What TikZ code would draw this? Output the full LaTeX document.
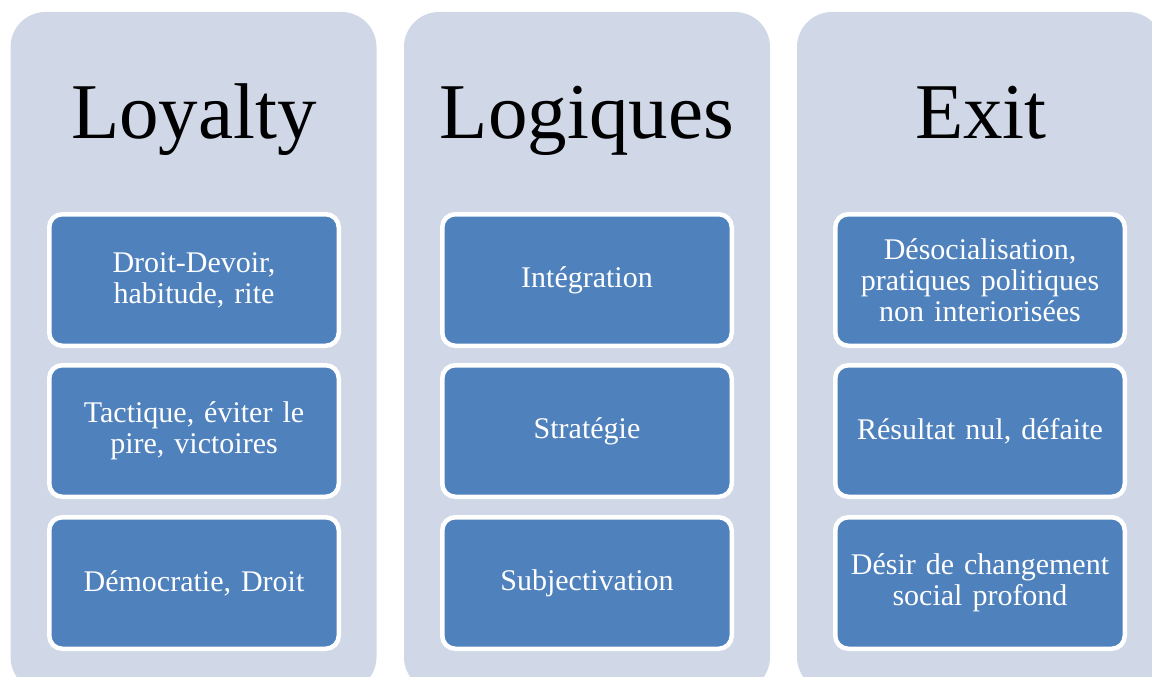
\documentclass[tikz,border=0pt]{standalone}
\usepackage{fontspec}
\setmainfont{Liberation Serif}
\usepackage{tikz}
\usetikzlibrary{positioning}
\definecolor{panelbg}{HTML}{D0D8E8}
\definecolor{itemblue}{HTML}{4F81BD}

\begin{document}
\begin{tikzpicture}[x=1pt,y=-1pt,
	panel/.style={rectangle,rounded corners=35pt,fill=panelbg,minimum width=366pt,minimum height=680pt,inner sep=0pt},
	heading/.style={anchor=base,font=\fontsize{79}{80}\selectfont,text=black},
	item/.style={rectangle,rounded corners=13pt,draw=white,line width=4.5pt,fill=itemblue,minimum width=289.5pt,minimum height=131.5pt,text width=280pt,align=center,text=white,font=\fontsize{30}{31}\selectfont}]
	 \useasboundingbox (0,0) rectangle (1152,677);

	 % columns
	 \node at (193.5,352) [panel] (loyalty) {};
	 \node at (587,352) [panel] (logic) {};
	 \node at (980,352) [panel] (exit) {};

	 \node at (194,138) [heading] (loyaltyT) {Loyalty};
	 \node at (587,138) [heading] (logicT) {Logiques};
	 \node at (981,138) [heading] (exitT) {Exit};

	 % left column
	 \node at (194,280) [item] (droit) {Droit-Devoir,\\habitude, rite};
	 \node at (194,431) [item] (tactique) {Tactique, éviter le\\pire, victoires};
	 \node at (194,583) [item] (democ) {Démocratie, Droit};

	 % middle column
	 \node at (587,280) [item] (integ) {Intégration};
	 \node at (587,431) [item] (strat) {Stratégie};
	 \node at (587,583) [item] (subj) {Subjectivation};

	 % right column
	 \node at (980,280) [item] (desoc) {Désocialisation,\\pratiques politiques\\non interiorisées};
	 \node at (980,431) [item] (nul) {Résultat nul, défaite};
	 \node at (980,583) [item] (desir) {Désir de changement\\social profond};

\end{tikzpicture}
\end{document}
